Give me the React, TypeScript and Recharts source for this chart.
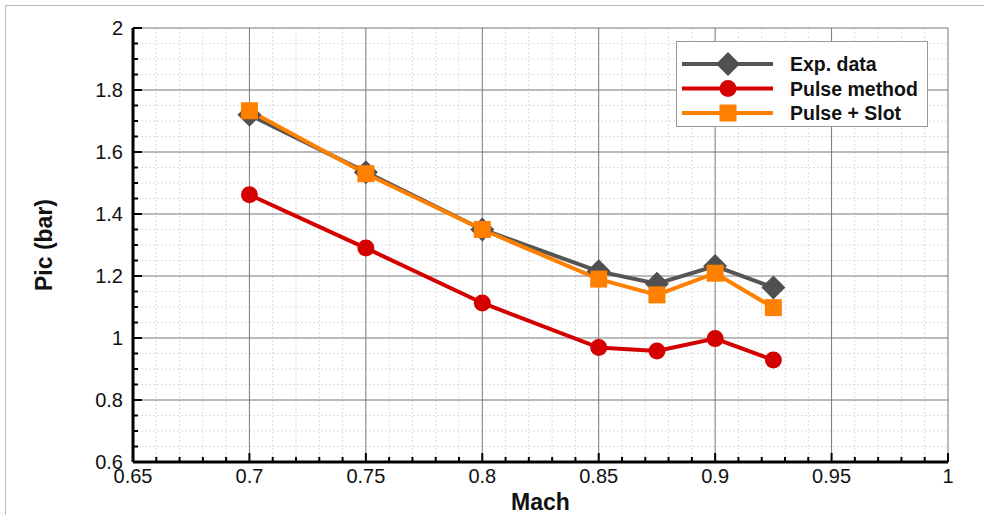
import { LineChart, Line, XAxis, YAxis, CartesianGrid, Legend } from 'recharts';

const mach = [0.7, 0.75, 0.8, 0.85, 0.875, 0.9, 0.925];
const expData = [1.72, 1.535, 1.35, 1.215, 1.175, 1.232, 1.163];
const pulseMethod = [1.462, 1.29, 1.113, 0.969, 0.958, 0.998, 0.929];
const pulseSlot = [1.733, 1.53, 1.35, 1.19, 1.139, 1.209, 1.098];

const xMajor = [0.65, 0.7, 0.75, 0.8, 0.85, 0.9, 0.95, 1];
const xMinor = [
    0.66, 0.67, 0.68, 0.69, 0.71, 0.72, 0.73, 0.74, 0.76, 0.77, 0.78, 0.79,
    0.81, 0.82, 0.83, 0.84, 0.86, 0.87, 0.88, 0.89, 0.91, 0.92, 0.93, 0.94,
    0.96, 0.97, 0.98, 0.99,
];
const yMajor = [0.6, 0.8, 1, 1.2, 1.4, 1.6, 1.8, 2];
const yMinor = [0.65, 0.7, 0.75, 0.85, 0.9, 0.95, 1.05, 1.1, 1.15, 1.25, 1.3, 1.35, 1.45, 1.5, 1.55, 1.65, 1.7, 1.75, 1.85, 1.9, 1.95];

const FONT = '"Liberation Sans", Arial, Helvetica, sans-serif';
const GRAY = '#555555';
const RED = '#d40000';
const ORANGE = '#ff8000';

const series = [
    { key: 'exp', name: 'Exp. data', color: GRAY, shape: 'diamond' },
    { key: 'pulse', name: 'Pulse method', color: RED, shape: 'circle' },
    { key: 'slot', name: 'Pulse + Slot', color: ORANGE, shape: 'square' },
];

const chartData = mach.map((m, i) => ({
    mach: m,
    exp: expData[i],
    pulse: pulseMethod[i],
    slot: pulseSlot[i],
}));

const isMajor = (v: number, list: number[]) => list.some((t) => Math.abs(t - v) < 1e-6);

function Marker({ cx, cy, shape, color }: { cx: number; cy: number; shape: string; color: string }) {
    if (cx == null || cy == null) return null;
    if (shape === 'diamond') {
        const r = 12;
        return <path d={`M${cx},${cy - r}L${cx + r},${cy}L${cx},${cy + r}L${cx - r},${cy}Z`} fill="#505050" />;
    }
    if (shape === 'circle') {
        return <circle cx={cx} cy={cy} r={8.5} fill={color} />;
    }
    return <rect x={cx - 8.5} y={cy - 8.5} width={17} height={17} fill={color} />;
}

const XTick = (props: any) => {
    const { x, y, payload } = props;
    const major = isMajor(payload.value, xMajor);
    return (
        <g>
            <line x1={x} y1={y} x2={x} y2={y - (major ? 9 : 5)} stroke="#000" strokeWidth={2} />
            {major && (
                <text x={x} y={y + 21} textAnchor="middle" fontSize={20} fill="#111" fontFamily={FONT}>
                    {String(payload.value)}
                </text>
            )}
        </g>
    );
};

const YTick = (props: any) => {
    const { x, y, payload } = props;
    const major = isMajor(payload.value, yMajor);
    return (
        <g>
            <line x1={x} y1={y} x2={x + (major ? 9 : 5)} y2={y} stroke="#000" strokeWidth={2} />
            {major && (
                <text x={x - 10} y={y + 7} textAnchor="end" fontSize={20} fill="#111" fontFamily={FONT}>
                    {String(payload.value)}
                </text>
            )}
        </g>
    );
};

const renderLegend = () => (
    <div
        style={{
            width: 250,
            height: 84,
            background: '#fff',
            border: '1px solid #999',
            fontFamily: FONT,
        }}
    >
        <svg width={250} height={84} style={{ display: 'block' }}>
            {series.map((s, i) => {
                const cy = 22 + i * 24.5;
                return (
                    <g key={s.key}>
                        <line x1={5} y1={cy} x2={96} y2={cy} stroke={s.color} strokeWidth={4} />
                        <Marker cx={51} cy={cy} shape={s.shape} color={s.color} />
                        <text x={113} y={cy + 7} fontSize={19.5} fontWeight="bold" fill="#111" fontFamily={FONT}>
                            {s.name}
                        </text>
                    </g>
                );
            })}
        </svg>
    </div>
);

export default function App() {
    return (
        <div style={{ position: 'absolute', left: 0, top: 0, width: 984, height: 515, background: '#fff' }}>
            <div style={{ position: 'absolute', left: 5, top: 5, right: 0, height: 1, background: '#bbb' }} />
            <div style={{ position: 'absolute', left: 5, top: 5, bottom: 0, width: 1, background: '#bbb' }} />
            <LineChart
                width={984}
                height={515}
                data={chartData}
                margin={{ top: 28, right: 36, left: 73, bottom: 23 }}
                style={{ position: 'absolute', left: 0, top: 0 }}
            >
                <CartesianGrid
                    horizontalValues={yMinor}
                    verticalValues={xMinor}
                    stroke="#dcdcdc"
                    strokeDasharray="2 2"
                    strokeWidth={1}
                />
                <CartesianGrid horizontalValues={yMajor} verticalValues={xMajor} stroke="#787878" strokeWidth={1} />
                <XAxis
                    dataKey="mach"
                    type="number"
                    domain={[0.65, 1]}
                    ticks={[...xMajor, ...xMinor].sort((a, b) => a - b)}
                    interval={0}
                    height={30}
                    tickSize={0}
                    tickMargin={0}
                    tickLine={false}
                    axisLine={{ stroke: '#000', strokeWidth: 3 }}
                    tick={<XTick />}
                    label={{
                        value: 'Mach',
                        position: 'insideBottom',
                        offset: -18,
                        fontSize: 23,
                        fontWeight: 'bold',
                        fill: '#111',
                        fontFamily: FONT,
                    }}
                />
                <YAxis
                    type="number"
                    domain={[0.6, 2]}
                    ticks={[...yMajor, ...yMinor].sort((a, b) => a - b)}
                    interval={0}
                    width={60}
                    tickSize={0}
                    tickMargin={0}
                    tickLine={false}
                    axisLine={{ stroke: '#000', strokeWidth: 3 }}
                    tick={<YTick />}
                    label={{
                        value: 'Pic (bar)',
                        angle: -90,
                        position: 'insideLeft',
                        offset: -29,
                        fontSize: 23,
                        fontWeight: 'bold',
                        fill: '#111',
                        fontFamily: FONT,
                        style: { textAnchor: 'middle' },
                    }}
                />
                <Legend
                    layout="horizontal"
                    verticalAlign="middle"
                    align="center"
                    content={renderLegend}
                    wrapperStyle={{ left: 676, top: 41, width: 252, height: 86 }}
                />
                {series.map((s) => (
                    <Line
                        key={s.key}
                        type="linear"
                        dataKey={s.key}
                        name={s.name}
                        stroke={s.color}
                        strokeWidth={4}
                        isAnimationActive={false}
                        dot={(p: any) => <Marker key={`${s.key}-${p.index}`} cx={p.cx} cy={p.cy} shape={s.shape} color={s.color} />}
                        activeDot={false}
                    />
                ))}
            </LineChart>
        </div>
    );
}
